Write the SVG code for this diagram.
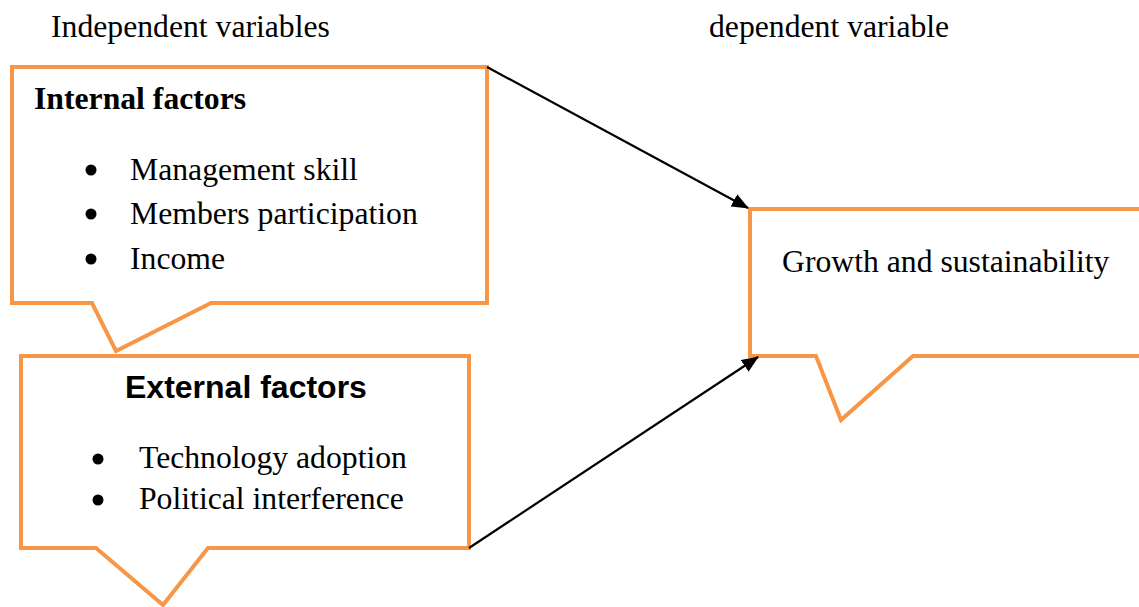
<svg xmlns="http://www.w3.org/2000/svg" width="1139" height="607" viewBox="0 0 1139 607">
  <style>
    .callout { fill: #ffffff; stroke: #F79646; stroke-width: 4; stroke-linejoin: miter; }
    .serif { font-family: "Liberation Serif", "Times New Roman", serif; font-size: 31.7px; fill: #000; }
    .head { font-family: "Liberation Serif", "Times New Roman", serif; font-size: 31.7px; font-weight: bold; fill: #000; }
    .sans-head { font-family: "Liberation Sans", Arial, sans-serif; font-size: 32px; font-weight: bold; fill: #000; }
    .link { stroke: #000; stroke-width: 2.2; fill: none; marker-end: url(#arrow); }
  </style>
  <defs>
    <marker id="arrow" markerWidth="17" markerHeight="14" refX="16" refY="7" orient="auto" markerUnits="userSpaceOnUse" viewBox="0 0 17 14">
      <path d="M0,0 L17,7 L0,14 z" fill="#000"/>
    </marker>
  </defs>
  <rect width="1139" height="607" fill="#ffffff"/>

  <text class="serif" x="51" y="37">Independent variables</text>
  <text class="serif" x="709" y="37">dependent variable</text>

  <g id="internal-factors">
    <path class="callout" d="M12,67 L487,67 L487,303 L211,303 L116,351 L92,303 L12,303 Z"/>
    <text class="head" x="34" y="109">Internal factors</text>
    <g class="serif">
      <circle cx="91" cy="170" r="5.5"/>
      <text x="130" y="180">Management skill</text>
      <circle cx="91" cy="214" r="5.5"/>
      <text x="130" y="224">Members participation</text>
      <circle cx="91" cy="259" r="5.5"/>
      <text x="130" y="269">Income</text>
    </g>
  </g>

  <g id="external-factors">
    <path class="callout" d="M21,356 L469,356 L469,548 L208,548 L163,605 L96,548 L21,548 Z"/>
    <text class="sans-head" x="125" y="398">External factors</text>
    <g class="serif">
      <circle cx="98" cy="459" r="5.5"/>
      <text x="139" y="468">Technology adoption</text>
      <circle cx="98" cy="500" r="5.5"/>
      <text x="139" y="509">Political interference</text>
    </g>
  </g>

  <g id="growth-sustainability">
    <path class="callout" d="M1145,209 L750,209 L750,356 L816,356 L841,420 L913,356 L1145,356"/>
    <text class="serif" x="782" y="272">Growth and sustainability</text>
  </g>

  <g id="connectors">
    <line class="link" x1="487" y1="67" x2="748" y2="208"/>
    <line class="link" x1="469" y1="548" x2="758" y2="357"/>
  </g>
</svg>
